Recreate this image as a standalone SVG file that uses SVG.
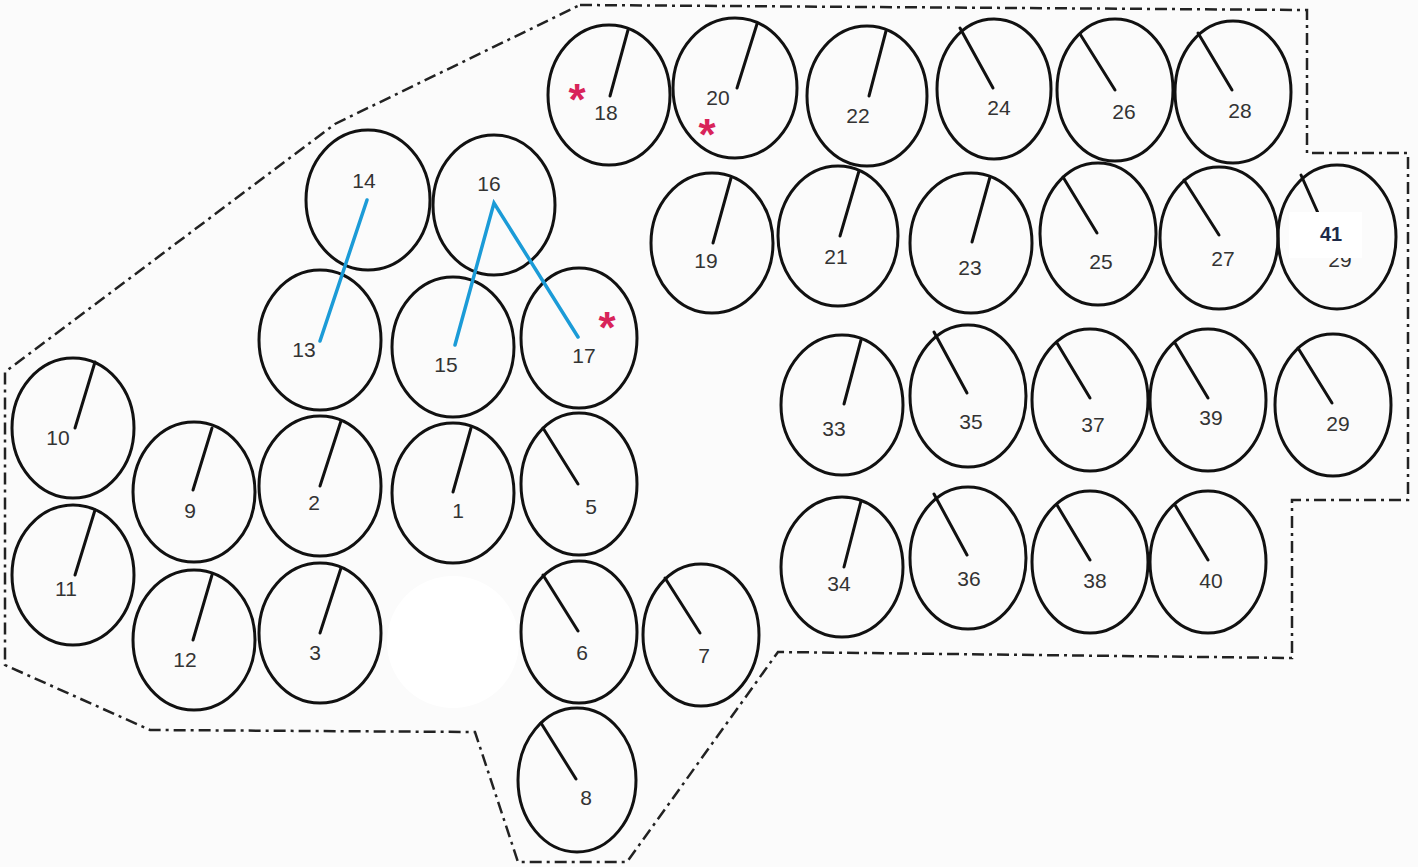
<svg xmlns="http://www.w3.org/2000/svg" width="1418" height="867" viewBox="0 0 1418 867">
<style>
.c{fill:none;stroke:#111;stroke-width:3}
.r{stroke:#111;stroke-width:3;stroke-linecap:round}
.t{font-family:"Liberation Sans",Arial,sans-serif;font-size:21px;fill:#333;text-anchor:middle}
.s{font-family:"Liberation Sans",Arial,sans-serif;font-size:44px;font-weight:bold;fill:#d8245a;text-anchor:middle}
.b{fill:none;stroke:#222;stroke-width:2.5;stroke-dasharray:12 5 3 5}
.k{stroke:#1b9bd7;stroke-width:3.5;stroke-linecap:round;fill:none}
</style>
<rect width="1418" height="867" fill="#fbfbfb"/>
<g id="boundary">
<path class="b" d="M580,5 L1307,10 L1307,153 L1408,153 L1408,500 L1292,500 L1292,658 L778,652 L627,862 L518,862 L475,732 L150,730 L5,665 L5,372 L335,124 Z"/>
</g>
<circle cx="453" cy="642" r="66" fill="#ffffff"/>
<g id="n18"><ellipse class="c" cx="609" cy="95" rx="61" ry="70"/><line class="r" x1="628" y1="30" x2="610" y2="96"/><text class="t" x="606" y="120">18</text><text class="s" x="577" y="115">*</text></g>
<g id="n20"><ellipse class="c" cx="735" cy="88" rx="62" ry="70"/><line class="r" x1="757" y1="24" x2="737" y2="88"/><text class="t" x="718" y="105">20</text><text class="s" x="707" y="150">*</text></g>
<g id="n22"><ellipse class="c" cx="867" cy="96" rx="60" ry="70"/><line class="r" x1="886" y1="31" x2="869" y2="96"/><text class="t" x="858" y="123">22</text></g>
<g id="n24"><ellipse class="c" cx="994" cy="89" rx="57" ry="70"/><line class="r" x1="960" y1="28" x2="993" y2="88"/><text class="t" x="999" y="115">24</text></g>
<g id="n26"><ellipse class="c" cx="1115" cy="90" rx="58" ry="71"/><line class="r" x1="1080" y1="34" x2="1115" y2="90"/><text class="t" x="1124" y="119">26</text></g>
<g id="n28"><ellipse class="c" cx="1233" cy="92" rx="58" ry="71"/><line class="r" x1="1198" y1="33" x2="1232" y2="90"/><text class="t" x="1240" y="118">28</text></g>
<g id="n19"><ellipse class="c" cx="712" cy="243" rx="61" ry="70"/><line class="r" x1="731" y1="178" x2="713" y2="243"/><text class="t" x="706" y="268">19</text></g>
<g id="n21"><ellipse class="c" cx="838" cy="236" rx="60" ry="70"/><line class="r" x1="859" y1="171" x2="840" y2="236"/><text class="t" x="836" y="264">21</text></g>
<g id="n23"><ellipse class="c" cx="971" cy="243" rx="61" ry="70"/><line class="r" x1="990" y1="177" x2="972" y2="242"/><text class="t" x="970" y="275">23</text></g>
<g id="n25"><ellipse class="c" cx="1098" cy="234" rx="58" ry="71"/><line class="r" x1="1063" y1="177" x2="1097" y2="233"/><text class="t" x="1101" y="269">25</text></g>
<g id="n27"><ellipse class="c" cx="1219" cy="238" rx="59" ry="71"/><line class="r" x1="1184" y1="180" x2="1219" y2="235"/><text class="t" x="1223" y="266">27</text></g>
<g id="n29a"><ellipse class="c" cx="1337" cy="237" rx="59" ry="72"/><line class="r" x1="1301" y1="175" x2="1322" y2="222"/><text class="t" x="1340" y="267">29</text><rect x="1289" y="212" width="73" height="46" fill="#ffffff"/><text x="1331" y="241" style="font-family:'Liberation Sans',Arial,sans-serif;font-size:20px;font-weight:bold;fill:#1e2a48;text-anchor:middle">41</text></g>
<g id="n33"><ellipse class="c" cx="842" cy="405" rx="61" ry="70"/><line class="r" x1="861" y1="340" x2="844" y2="404"/><text class="t" x="834" y="436">33</text></g>
<g id="n35"><ellipse class="c" cx="968" cy="396" rx="58" ry="71"/><line class="r" x1="934" y1="332" x2="967" y2="393"/><text class="t" x="971" y="429">35</text></g>
<g id="n37"><ellipse class="c" cx="1090" cy="400" rx="58" ry="71"/><line class="r" x1="1057" y1="343" x2="1090" y2="398"/><text class="t" x="1093" y="432">37</text></g>
<g id="n39"><ellipse class="c" cx="1208" cy="400" rx="58" ry="71"/><line class="r" x1="1175" y1="343" x2="1208" y2="398"/><text class="t" x="1211" y="425">39</text></g>
<g id="n29b"><ellipse class="c" cx="1333" cy="405" rx="58" ry="71"/><line class="r" x1="1298" y1="348" x2="1332" y2="403"/><text class="t" x="1338" y="431">29</text></g>
<g id="n34"><ellipse class="c" cx="842" cy="567" rx="61" ry="70"/><line class="r" x1="861" y1="501" x2="844" y2="567"/><text class="t" x="839" y="591">34</text></g>
<g id="n36"><ellipse class="c" cx="968" cy="558" rx="58" ry="71"/><line class="r" x1="934" y1="494" x2="967" y2="555"/><text class="t" x="969" y="586">36</text></g>
<g id="n38"><ellipse class="c" cx="1090" cy="562" rx="58" ry="71"/><line class="r" x1="1057" y1="505" x2="1090" y2="560"/><text class="t" x="1095" y="588">38</text></g>
<g id="n40"><ellipse class="c" cx="1208" cy="562" rx="58" ry="71"/><line class="r" x1="1175" y1="505" x2="1208" y2="560"/><text class="t" x="1211" y="588">40</text></g>
<g id="n14"><ellipse class="c" cx="368" cy="200" rx="62" ry="70"/><text class="t" x="364" y="188">14</text></g>
<g id="n16"><ellipse class="c" cx="494" cy="205" rx="61" ry="70"/><text class="t" x="489" y="191">16</text></g>
<g id="n13"><ellipse class="c" cx="320" cy="340" rx="61" ry="70"/><text class="t" x="304" y="357">13</text></g>
<g id="n15"><ellipse class="c" cx="453" cy="347" rx="61" ry="70"/><text class="t" x="446" y="372">15</text></g>
<g id="n17"><ellipse class="c" cx="579" cy="338" rx="58" ry="70"/><text class="t" x="584" y="363">17</text><text class="s" x="607" y="343">*</text></g>
<g id="n10"><ellipse class="c" cx="73" cy="428" rx="61" ry="70"/><line class="r" x1="95" y1="362" x2="75" y2="428"/><text class="t" x="58" y="445">10</text></g>
<g id="n11"><ellipse class="c" cx="73" cy="575" rx="61" ry="70"/><line class="r" x1="95" y1="510" x2="75" y2="575"/><text class="t" x="66" y="596">11</text></g>
<g id="n9"><ellipse class="c" cx="194" cy="492" rx="61" ry="70"/><line class="r" x1="212" y1="428" x2="193" y2="490"/><text class="t" x="190" y="518">9</text></g>
<g id="n2"><ellipse class="c" cx="320" cy="486" rx="61" ry="70"/><line class="r" x1="341" y1="421" x2="320" y2="486"/><text class="t" x="314" y="510">2</text></g>
<g id="n1"><ellipse class="c" cx="453" cy="493" rx="61" ry="70"/><line class="r" x1="471" y1="428" x2="453" y2="492"/><text class="t" x="458" y="518">1</text></g>
<g id="n5"><ellipse class="c" cx="579" cy="484" rx="58" ry="71"/><line class="r" x1="543" y1="428" x2="578" y2="484"/><text class="t" x="591" y="514">5</text></g>
<g id="n12"><ellipse class="c" cx="194" cy="640" rx="61" ry="70"/><line class="r" x1="212" y1="575" x2="193" y2="640"/><text class="t" x="185" y="667">12</text></g>
<g id="n3"><ellipse class="c" cx="320" cy="633" rx="61" ry="70"/><line class="r" x1="341" y1="568" x2="320" y2="633"/><text class="t" x="315" y="660">3</text></g>
<g id="n6"><ellipse class="c" cx="579" cy="632" rx="58" ry="71"/><line class="r" x1="543" y1="575" x2="578" y2="631"/><text class="t" x="582" y="660">6</text></g>
<g id="n7"><ellipse class="c" cx="701" cy="635" rx="58" ry="71"/><line class="r" x1="665" y1="578" x2="700" y2="633"/><text class="t" x="704" y="663">7</text></g>
<g id="n8"><ellipse class="c" cx="577" cy="780" rx="59" ry="72"/><line class="r" x1="541" y1="723" x2="576" y2="779"/><text class="t" x="586" y="805">8</text></g>
<g id="connectors">
<line class="k" x1="367" y1="200" x2="320" y2="341"/>
<polyline class="k" points="455,345 494,203 578,337"/>
</g>
</svg>
